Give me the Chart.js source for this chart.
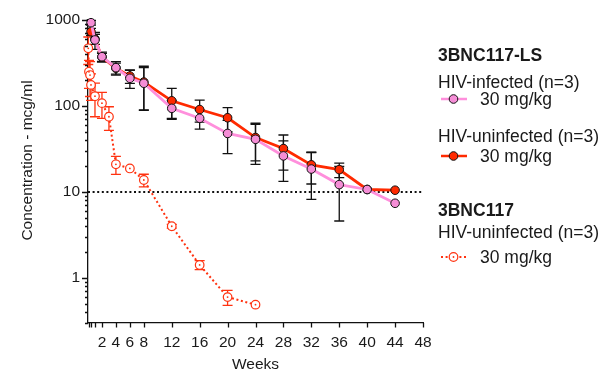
<!DOCTYPE html>
<html lang="en">
<head>
<meta charset="UTF-8">
<title>3BNC117-LS serum concentration</title>
<script src="https://cdn.jsdelivr.net/npm/chart.js"></script>
<style>
  html, body { margin: 0; padding: 0; background: #fff; }
  #wrap { position: relative; width: 605px; height: 373px; font-family: "Liberation Sans", Arial, sans-serif; color: #1a1a1a; }
  #wrap canvas { position: absolute; left: 0; top: 0; }
  .lg { position: absolute; left: 438px; font-size: 17.5px; line-height: 20px; white-space: nowrap; }
  .lg.bold { font-weight: bold; }
  .lg.dose { left: 480px; }
  .mk { position: absolute; left: 440px; }
</style>
</head>
<body>
<div id="wrap">
  <canvas id="grafico"></canvas>

  <div class="lg bold" style="top:45px">3BNC117-LS</div>
  <div class="lg" style="top:72px">HIV-infected (n=3)</div>
  <svg class="mk" style="top:91px" width="28" height="16">
    <line x1="1" y1="8" x2="27" y2="8" stroke="#ff8fdc" stroke-width="2.5"/>
    <circle cx="13.5" cy="8" r="4.3" fill="#f58dd6" stroke="#111" stroke-width="1"/>
  </svg>
  <div class="lg dose" style="top:89px">30 mg/kg</div>

  <div class="lg" style="top:126px">HIV-uninfected (n=3)</div>
  <svg class="mk" style="top:148px" width="28" height="16">
    <line x1="1" y1="8" x2="27" y2="8" stroke="#ff2a00" stroke-width="2.5"/>
    <circle cx="13.5" cy="8" r="4.3" fill="#ff2a00" stroke="#111" stroke-width="1"/>
  </svg>
  <div class="lg dose" style="top:146px">30 mg/kg</div>

  <div class="lg bold" style="top:200px">3BNC117</div>
  <div class="lg" style="top:222px">HIV-uninfected (n=3)</div>
  <svg class="mk" style="top:249px" width="28" height="16">
    <line x1="1" y1="8" x2="27" y2="8" stroke="#ff3210" stroke-width="2" stroke-dasharray="2 2.6"/>
    <circle cx="13.5" cy="8" r="4.3" fill="#fff" stroke="#ff3210" stroke-width="1.2"/>
    <circle cx="13.5" cy="8" r="0.9" fill="#ff3210"/>
  </svg>
  <div class="lg dose" style="top:247px">30 mg/kg</div>
</div>

<script>
// semanas e concentrações (mcg/ml)
const lsWeeks = [0.43, 1, 2, 4, 6, 8, 12, 16, 20, 24, 28, 32, 36, 40, 44];
const infMean = [930, 586, 374, 279, 210, 184, 94, 72, 48, 41, 26.3, 18.5, 12.2, 10.7, 7.4];
const infSd   = [60, 130, 50, 50, 50, 95, 22, 18, 20, 20, 13, 10.3, 7.6, 0, 0];
const uninfMean = [730, 600, 370, 275, 223, 190, 115, 91, 73, 43, 32, 20.7, 18.2, 10.7, 10.5];
const uninfSd   = [70, 80, 40, 40, 40, 100, 45, 26, 23, 20, 14, 8.3, 3.5, 0, 0];

const parWeeks = [0.04, 0.14, 0.29, 0.43, 1, 2, 3, 4, 6, 8, 12, 16, 20, 24];
const parMean  = [469, 250, 229, 176, 130, 108, 75, 21, 18.8, 13.8, 4.0, 1.42, 0.6, 0.49];
const parSd    = [165, 90, 100, 60, 55, 36, 23, 5, 0, 2.3, 0.2, 0.17, 0.12, 0];

const xTicks = [0.14, 0.43, 1, 2, 4, 6, 8, 12, 16, 20, 24, 28, 32, 36, 40, 44, 48];
const yTicks = [0.3, 0.4, 0.5, 0.6, 0.7, 0.8, 0.9,
                1, 2, 3, 4, 5, 6, 7, 8, 9,
                10, 20, 30, 40, 50, 60, 70, 80, 90,
                100, 200, 300, 400, 500, 600, 700, 800, 900, 1000];
const yLabels = [1, 10, 100, 1000];
const limiar = 10;
const yTitulo = 'Concentration - mcg/ml';

const PINK = '#f58dd6', PINK_LINE = '#ff8fdc', RED = '#ff2a00', RED_PAR = '#ff3210';
const FONT = '"Liberation Sans", Arial, sans-serif';

function pts(weeks, vals) {
  return weeks.map((w, i) => ({ x: w, y: vals[i] }));
}

// barras de erro (média ± DP), linha pontilhada no 10, marcas e título do eixo y
const errorBars = {
  id: 'errorBars',
  beforeDatasetsDraw(chart) {
    const { ctx, scales: { x, y } } = chart;
    const grupos = [
      [lsWeeks, infMean, infSd, '#111'],
      [lsWeeks, uninfMean, uninfSd, '#111'],
      [parWeeks, parMean, parSd, RED_PAR]
    ];
    ctx.save();
    ctx.strokeStyle = '#111';
    ctx.lineWidth = 2;
    ctx.setLineDash([2, 2.6]);
    const py10 = y.getPixelForValue(limiar);
    ctx.beginPath();
    ctx.moveTo(x.left, py10);
    ctx.lineTo(x.right, py10);
    ctx.stroke();
    ctx.setLineDash([]);
    ctx.lineWidth = 1.3;
    grupos.forEach(([wk, m, sd, cor]) => {
      ctx.strokeStyle = cor;
      wk.forEach((w, i) => {
        if (!sd[i]) return;
        const px = x.getPixelForValue(w);
        const top = y.getPixelForValue(m[i] + sd[i]);
        const bot = y.getPixelForValue(Math.max(m[i] - sd[i], 0.3));
        ctx.beginPath();
        ctx.moveTo(px, top); ctx.lineTo(px, bot);
        ctx.moveTo(px - 5, top); ctx.lineTo(px + 5, top);
        ctx.moveTo(px - 5, bot); ctx.lineTo(px + 5, bot);
        ctx.stroke();
      });
    });
    ctx.restore();
  },
  afterDatasetsDraw(chart) {
    // ponto central dos círculos vazios
    const { ctx } = chart;
    const meta = chart.getDatasetMeta(2);
    ctx.save();
    ctx.fillStyle = RED_PAR;
    meta.data.forEach(p => {
      ctx.beginPath();
      ctx.arc(p.x, p.y, 0.9, 0, Math.PI * 2);
      ctx.fill();
    });
    ctx.restore();
  },
  afterDraw(chart) {
    const { ctx, chartArea, scales: { x, y } } = chart;
    ctx.save();
    ctx.strokeStyle = '#111';
    ctx.lineWidth = 1.3;
    ctx.beginPath();
    y.ticks.forEach(t => {
      const py = Math.round(y.getPixelForValue(t.value)) + 0.5;
      const len = yLabels.includes(t.value) ? 6 : 3;
      ctx.moveTo(y.right, py);
      ctx.lineTo(y.right - len, py);
    });
    x.ticks.forEach(t => {
      const px = Math.round(x.getPixelForValue(t.value)) + 0.5;
      ctx.moveTo(px, x.top);
      ctx.lineTo(px, x.top + 4.5);
    });
    ctx.stroke();

    // título do eixo y, um pouco acima do centro como no original
    ctx.translate(28, (chartArea.top + chartArea.bottom) / 2 - 11);
    ctx.rotate(-Math.PI / 2);
    ctx.fillStyle = '#1a1a1a';
    ctx.font = '15.5px ' + FONT;
    ctx.textAlign = 'center';
    ctx.textBaseline = 'middle';
    ctx.fillText(yTitulo, 0, 0);
    ctx.restore();
  }
};

const ctx = document.getElementById('grafico').getContext('2d');
new Chart(ctx, {
  type: 'line',
  data: {
    datasets: [
      {
        label: 'HIV-infected (n=3)',
        data: pts(lsWeeks, infMean),
        borderColor: PINK_LINE,
        borderWidth: 2.8,
        pointRadius: 4.3,
        pointBackgroundColor: PINK,
        pointBorderColor: '#111',
        pointBorderWidth: 1,
        clip: false
      },
      {
        label: 'HIV-uninfected (n=3)',
        data: pts(lsWeeks, uninfMean),
        borderColor: RED,
        borderWidth: 2.8,
        pointRadius: 4.3,
        pointBackgroundColor: RED,
        pointBorderColor: '#111',
        pointBorderWidth: 1,
        clip: false
      },
      {
        label: '3BNC117 HIV-uninfected (n=3)',
        data: pts(parWeeks, parMean),
        borderColor: RED_PAR,
        borderWidth: 2,
        borderDash: [2, 2.6],
        pointRadius: 4.3,
        pointBackgroundColor: '#fff',
        pointBorderColor: RED_PAR,
        pointBorderWidth: 1.2,
        clip: false
      }
    ]
  },
  options: {
    responsive: true,
    maintainAspectRatio: false,
    animation: false,
    devicePixelRatio: 1,
    layout: { padding: { top: 20, right: 182, bottom: 0, left: 0 } },
    plugins: { legend: { display: false }, tooltip: { enabled: false } },
    scales: {
      x: {
        type: 'linear',
        min: 0,
        max: 48,
        afterBuildTicks: s => { s.ticks = xTicks.map(v => ({ value: v })); },
        afterFit: s => { s.height = 50; },
        grid: { display: false, drawTicks: false },
        border: { display: true, color: '#111', width: 1.3 },
        ticks: {
          autoSkip: false,
          maxRotation: 0,
          padding: 10,
          color: '#1a1a1a',
          font: { family: FONT, size: 15.5 },
          callback: v => (v >= 2 ? String(v) : '')
        },
        title: {
          display: true,
          text: 'Weeks',
          color: '#1a1a1a',
          font: { family: FONT, size: 15.5 },
          padding: { top: 0, bottom: -1 }
        }
      },
      y: {
        type: 'logarithmic',
        min: 0.3,
        max: 1000,
        afterBuildTicks: s => { s.ticks = yTicks.map(v => ({ value: v })); },
        afterFit: s => { s.width = 88; },
        grid: { display: false, drawTicks: false },
        border: { display: true, color: '#111', width: 1.3 },
        ticks: {
          autoSkip: false,
          padding: 8,
          color: '#1a1a1a',
          font: { family: FONT, size: 15.5 },
          callback: v => (yLabels.includes(v) ? String(v) : '')
        },
        title: { display: false }
      }
    }
  },
  plugins: [errorBars]
});
</script>
</body>
</html>
